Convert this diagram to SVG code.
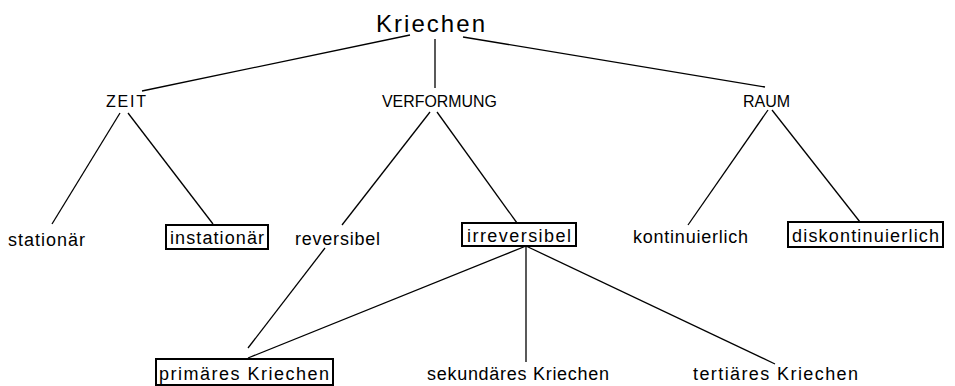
<svg xmlns="http://www.w3.org/2000/svg" width="955" height="386" viewBox="0 0 955 386">
<style>
text{font-family:"Liberation Sans","DejaVu Sans",sans-serif;fill:#000}
.t{font-size:18px}
.c{font-size:16px}
.k{font-size:24px}
.b{fill:none;stroke:#000;stroke-width:2}
.l{stroke:#000;stroke-width:1.3;fill:none}
</style>
<rect width="955" height="386" fill="#fff"/>
<g id="connectors" class="l">
<line x1="410" y1="35" x2="142" y2="91"/>
<line x1="435" y1="39" x2="435" y2="88"/>
<line x1="463" y1="37" x2="765" y2="87"/>
<line x1="120" y1="113" x2="52" y2="224"/>
<line x1="128" y1="113" x2="213" y2="224"/>
<line x1="430" y1="112" x2="342" y2="225"/>
<line x1="437" y1="112" x2="517" y2="223"/>
<line x1="768" y1="110" x2="688" y2="225"/>
<line x1="772" y1="110" x2="860" y2="222"/>
<line x1="325" y1="248" x2="248" y2="348"/>
<line x1="526" y1="246" x2="248" y2="358"/>
<line x1="526" y1="246" x2="526" y2="362"/>
<line x1="526" y1="246" x2="775" y2="364"/>
</g>
<g id="kriechen"><text class="k" x="376" y="32" textLength="109" lengthAdjust="spacing">Kriechen</text></g>
<g id="zeit"><text class="c" x="106" y="107" textLength="40" lengthAdjust="spacing">ZEIT</text></g>
<g id="verformung"><text class="c" x="382" y="107" textLength="115" lengthAdjust="spacingAndGlyphs">VERFORMUNG</text></g>
<g id="raum"><text class="c" x="743" y="107" textLength="47" lengthAdjust="spacing">RAUM</text></g>
<g id="stationaer"><text class="t" x="8" y="246" textLength="77" lengthAdjust="spacing">stationär</text></g>
<g id="instationaer"><rect class="b" x="166" y="225" width="102" height="24"/><text class="t" x="170" y="244" textLength="94" lengthAdjust="spacing">instationär</text></g>
<g id="reversibel"><text class="t" x="295" y="245" textLength="85" lengthAdjust="spacing">reversibel</text></g>
<g id="irreversibel"><rect class="b" x="462" y="223" width="114" height="23"/><text class="t" x="467" y="242" textLength="104" lengthAdjust="spacing">irreversibel</text></g>
<g id="kontinuierlich"><text class="t" x="633" y="243" textLength="115" lengthAdjust="spacing">kontinuierlich</text></g>
<g id="diskontinuierlich"><rect class="b" x="788" y="222" width="155" height="25"/><text class="t" x="792" y="242" textLength="147" lengthAdjust="spacing">diskontinuierlich</text></g>
<g id="primaeres"><rect class="b" x="156" y="359" width="177" height="26"/><text class="t" x="159" y="380" textLength="170" lengthAdjust="spacing">primäres Kriechen</text></g>
<g id="sekundaeres"><text class="t" x="427" y="380" textLength="182" lengthAdjust="spacing">sekundäres Kriechen</text></g>
<g id="tertiaeres"><text class="t" x="693" y="380" textLength="165" lengthAdjust="spacing">tertiäres Kriechen</text></g>
</svg>
